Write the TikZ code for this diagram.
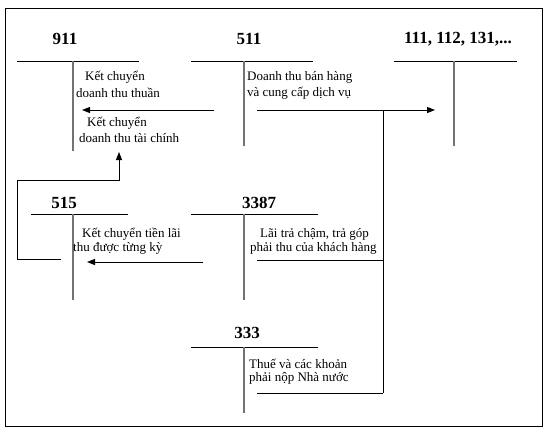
\documentclass[tikz,border=0pt]{standalone}
\usepackage{fontspec}
\setmainfont{Liberation Serif}
\usetikzlibrary{arrows.meta}
\begin{document}
\begin{tikzpicture}[x=1pt,y=-1pt,
  acct/.style={font=\bfseries\fontsize{17}{19}\selectfont, inner sep=0pt},
  txt/.style={font=\fontsize{13}{15}\selectfont, inner sep=0pt, anchor=west},
  hline/.style={line width=1pt},
  vline/.style={line width=1.3pt, draw=black!55},
  flow/.style={line width=1pt},
  arr/.style={flow, -{Triangle[length=8pt,width=6pt]}}]
\useasboundingbox (0,0) rectangle (548,434);
\draw[line width=1pt] (5,8) rectangle (542,426);
% account 911
\node[acct] (a911) at (65,39) {911};
\draw[hline] (17,61) coordinate (h911l) -- (139,61) coordinate (h911r);
\draw[vline] (73,61) coordinate (v911t) -- (73,151) coordinate (v911b);
% account 511
\node[acct] (a511) at (249,39) {511};
\draw[hline] (191,61) coordinate (h511l) -- (313,61) coordinate (h511r);
\draw[vline] (244,61) coordinate (v511t) -- (244,146) coordinate (v511b);
% account 111
\node[acct] (a111) at (458,39) {111, 112, 131,...};
\draw[hline] (394,61) coordinate (h111l) -- (517,61) coordinate (h111r);
\draw[vline] (454,61) coordinate (v111t) -- (454,146) coordinate (v111b);
% account 515
\node[acct] (a515) at (64,203) {515};
\draw[hline] (31,214) coordinate (h515l) -- (128,214) coordinate (h515r);
\draw[vline] (73,214) coordinate (v515t) -- (73,300) coordinate (v515b);
% account 3387
\node[acct] (a3387) at (259,203) {3387};
\draw[hline] (191,214) coordinate (h3387l) -- (318,214) coordinate (h3387r);
\draw[vline] (244,214) coordinate (v3387t) -- (244,300) coordinate (v3387b);
% account 333
\node[acct] (a333) at (247,333) {333};
\draw[hline] (191,347) coordinate (h333l) -- (318,347) coordinate (h333r);
\draw[vline] (244,347) coordinate (v333t) -- (244,413) coordinate (v333b);
% texts
\node[txt] (t1) at (85,77) {Kết chuyển};
\node[txt] (t2) at (76,93) {doanh thu thuần};
\node[txt] (t3) at (87,123) {Kết chuyển};
\node[txt] (t4) at (79,138) {doanh thu tài chính};
\node[txt] (t5) at (247,77) {Doanh thu bán hàng};
\node[txt] (t6) at (247,93) {và cung cấp dịch vụ};
\node[txt] (t7) at (82,234) {Kết chuyển tiền lãi};
\node[txt] (t8) at (73,248) {thu được từng kỳ};
\node[txt] (t9) at (260,234) {Lãi trả chậm, trả góp};
\node[txt] (t10) at (250,248) {phải thu của khách hàng};
\node[txt] (t11) at (249,364) {Thuế và các khoản};
\node[txt] (t12) at (249,378) {phải nộp Nhà nước};
% flow coordinates
\coordinate (f1s) at (214,110);
\coordinate (f1e) at (82,110);
\coordinate (f2s) at (257,110);
\coordinate (f2e) at (435,110);
\coordinate (j1) at (383,110);
\coordinate (j2) at (383,260);
\coordinate (j3) at (383,393);
\coordinate (f3s) at (257,260);
\coordinate (f4s) at (257,393);
\coordinate (f5s) at (61,259);
\coordinate (f5a) at (17,259);
\coordinate (f5b) at (17,180);
\coordinate (f5c) at (119,180);
\coordinate (f5e) at (119,152);
\coordinate (f6s) at (203,262);
\coordinate (f6e) at (87,262);
% flows
\draw[arr] (f1s) -- (f1e);
\draw[arr] (f2s) -- (f2e);
\draw[flow] (j1) -- (j3);
\draw[flow] (f3s) -- (j2);
\draw[flow] (f4s) -- (j3);
\draw[arr] (f5s) -- (f5a) -- (f5b) -- (f5c) -- (f5e);
\draw[arr] (f6s) -- (f6e);
\end{tikzpicture}
\end{document}
